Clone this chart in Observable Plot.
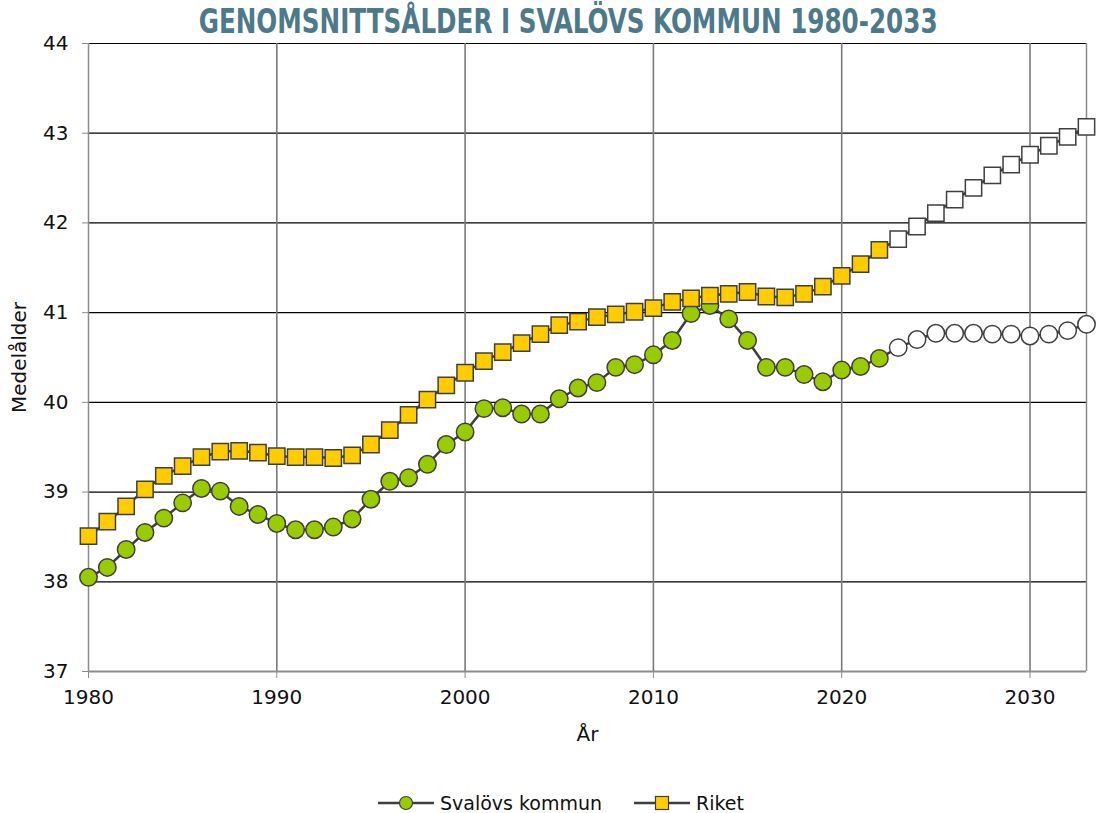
<!DOCTYPE html>
<html>
<head>
<meta charset="utf-8">
<script src="https://cdn.jsdelivr.net/npm/d3@7"></script>
<script src="https://cdn.jsdelivr.net/npm/@observablehq/plot@0.6"></script>
<style>
  body { margin: 0; background: #fff; width: 1097px; font-family: "DejaVu Sans", sans-serif; }
  #title { height: 36px; text-align: center; overflow: visible; }
  #title span { display: inline-block; line-height: 44px;
           font-family: "Liberation Sans Narrow", "DejaVu Sans Condensed", "DejaVu Sans", sans-serif;
           font-weight: bold; font-size: 33px; color: #4d7a8a; white-space: nowrap;
           transform: translateX(20px) scaleX(0.83); transform-origin: center; }
  #legend { margin-top: 40px; height: 24px; display: flex; justify-content: center; align-items: center;
            padding-left: 25px; font-size: 19px; color: #111; }
  .item { display: flex; align-items: center; }
  .item svg { margin-right: 6px; }
</style>
</head>
<body>
<div id="title"><span>GENOMSNITTSÅLDER I SVALÖVS KOMMUN 1980-2033</span></div>
<div id="chart"></div>
<div id="legend"></div>
<script>
const years = [1980,1981,1982,1983,1984,1985,1986,1987,1988,1989,
               1990,1991,1992,1993,1994,1995,1996,1997,1998,1999,
               2000,2001,2002,2003,2004,2005,2006,2007,2008,2009,
               2010,2011,2012,2013,2014,2015,2016,2017,2018,2019,
               2020,2021,2022,2023,2024,2025,2026,2027,2028,2029,
               2030,2031,2032,2033];
const svalov = [38.05,38.16,38.36,38.55,38.71,38.88,39.04,39.01,38.84,38.75,
                38.65,38.58,38.58,38.61,38.70,38.92,39.12,39.16,39.31,39.53,
                39.67,39.93,39.94,39.87,39.87,40.04,40.16,40.22,40.39,40.42,
                40.53,40.69,40.99,41.08,40.93,40.69,40.39,40.39,40.31,40.23,
                40.36,40.40,40.49,40.61,40.70,40.77,40.77,40.77,40.76,40.76,
                40.74,40.76,40.80,40.87];
const riket = [38.51,38.67,38.84,39.03,39.18,39.29,39.39,39.45,39.46,39.44,
               39.40,39.39,39.39,39.38,39.41,39.53,39.69,39.86,40.03,40.19,
               40.33,40.46,40.56,40.66,40.76,40.86,40.90,40.95,40.98,41.01,
               41.05,41.12,41.16,41.19,41.21,41.23,41.18,41.17,41.21,41.29,
               41.41,41.54,41.70,41.82,41.96,42.11,42.26,42.39,42.53,42.65,
               42.76,42.86,42.96,43.07];
const seriesNames = ["Svalövs kommun", "Riket"];
const seriesFill = ["#99cc00", "#ffcc00"];
const forecastFrom = 2023;
const yTicks = [37,38,39,40,41,42,43,44];
const xTicks = [1980,1990,2000,2010,2020,2030];

const rows = (name, vals) => years.map((y, i) => ({year: y, value: vals[i], series: name, forecast: y >= forecastFrom}));
const sv = rows(seriesNames[0], svalov);
const ri = rows(seriesNames[1], riket);

const ink = "#3f3f3f";
const chart = Plot.plot({
  width: 1097,
  height: 715,
  marginLeft: 88,
  marginRight: 11,
  marginTop: 7,
  marginBottom: 80,
  style: {fontFamily: "'DejaVu Sans', sans-serif", fontSize: "19px", color: "#111", background: "#fff", overflow: "visible"},
  x: {domain: [1980, 2033]},
  y: {domain: [37, 44]},
  marks: [
    Plot.ruleY(yTicks.slice(1), {stroke: "#000", strokeWidth: 1.2}),
    Plot.ruleX(xTicks.slice(1), {stroke: "#7a7a7a", strokeWidth: 1.6}),
    Plot.ruleX([1980], {stroke: "#8c8c8c", strokeWidth: 1.5}),
    Plot.ruleX([2033], {stroke: "#8c8c8c", strokeWidth: 1.5}),
    Plot.ruleY([37], {stroke: "#8c8c8c", strokeWidth: 2}),
    Plot.axisX({ticks: xTicks, tickFormat: d => String(d), tickSize: 7, tickPadding: 11, stroke: "#8c8c8c",
                fontSize: 20, label: "År", labelAnchor: "center", labelArrow: "none", labelOffset: 69}),
    Plot.axisY({ticks: yTicks, tickFormat: d => String(d), tickSize: 6, tickPadding: 14, stroke: "#8c8c8c",
                fontSize: 20, label: "Medelålder", labelAnchor: "center", labelArrow: "none", labelOffset: 77}),
    Plot.line(sv, {x: "year", y: "value", stroke: ink, strokeWidth: 2.5}),
    Plot.dot(sv, {x: "year", y: "value", r: 8.7, symbol: "circle", stroke: ink, strokeWidth: 1.5,
                  fill: d => d.forecast ? "#ffffff" : seriesFill[0]}),
    Plot.line(ri, {x: "year", y: "value", stroke: ink, strokeWidth: 2.5}),
    Plot.dot(ri, {x: "year", y: "value", r: 9.2, symbol: "square", stroke: ink, strokeWidth: 1.5,
                  fill: d => d.forecast ? "#ffffff" : seriesFill[1]})
  ]
});
document.getElementById("chart").appendChild(chart);

const legend = document.getElementById("legend");
seriesNames.forEach((name, i) => {
  const item = document.createElement("div");
  item.className = "item";
  item.style.marginRight = i === 0 ? "32px" : "0";
  const marker = i === 0
    ? `<circle cx="28" cy="12" r="6.5" fill="${seriesFill[i]}" stroke="${ink}" stroke-width="1.2"/>`
    : `<rect x="21.5" y="5.5" width="13" height="13" fill="${seriesFill[i]}" stroke="${ink}" stroke-width="1.2"/>`;
  item.innerHTML = `<svg width="56" height="24"><line x1="0" x2="56" y1="12" y2="12" stroke="${ink}" stroke-width="2.5"/>${marker}</svg><span>${name}</span>`;
  legend.appendChild(item);
});
</script>
</body>
</html>
